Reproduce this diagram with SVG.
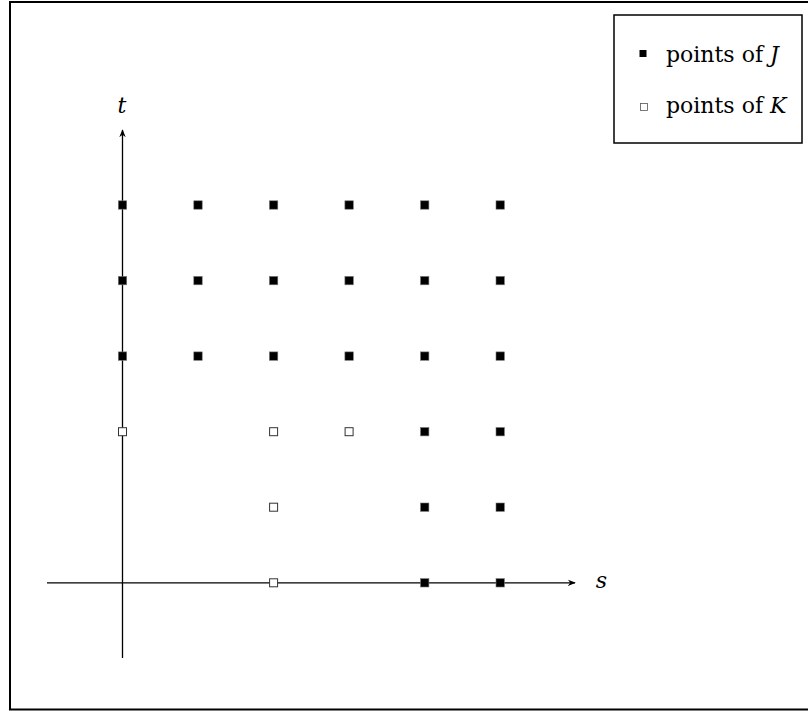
<svg xmlns="http://www.w3.org/2000/svg" width="808" height="711" viewBox="0 0 808 711">
<style>
.ax{stroke:#000;stroke-width:1.3;fill:none}
.f{fill:#000;stroke:#777;stroke-width:0.6}
.e{fill:#fff;stroke:#333;stroke-width:1}
.lbl{font-family:"DejaVu Serif","Liberation Serif",serif;font-size:22px;fill:#000}
.it{font-style:italic}
</style>
<defs>
<marker id="arr" viewBox="0 0 10 10" refX="9" refY="5" markerWidth="8" markerHeight="8" markerUnits="userSpaceOnUse" orient="auto">
<path d="M0,1 L10,5 L0,9 L3,5 Z" fill="#000"/>
</marker>
<rect id="fs" x="-4.2" y="-4.2" width="8.4" height="8.4" class="f"/>
<rect id="es" x="-4" y="-4" width="8" height="8" class="e"/>
</defs>
<rect x="0" y="0" width="808" height="711" fill="#fff"/>
<rect x="10" y="2" width="800" height="707.5" fill="none" stroke="#000" stroke-width="2"/>
<g id="connectors">
<line class="ax" x1="47" y1="582.8" x2="575" y2="582.8" marker-end="url(#arr)"/>
<line class="ax" x1="122.5" y1="658" x2="122.5" y2="130" marker-end="url(#arr)"/>
</g>
<g id="axis-labels">
<text class="lbl it" x="122" y="113" text-anchor="middle">t</text>
<text class="lbl it" x="601.5" y="588" text-anchor="middle">s</text>
</g>
<g id="points-J">
<use href="#fs" x="122.5" y="205"/><use href="#fs" x="198" y="205"/><use href="#fs" x="273.6" y="205"/><use href="#fs" x="349.1" y="205"/><use href="#fs" x="424.7" y="205"/><use href="#fs" x="500.2" y="205"/>
<use href="#fs" x="122.5" y="280.6"/><use href="#fs" x="198" y="280.6"/><use href="#fs" x="273.6" y="280.6"/><use href="#fs" x="349.1" y="280.6"/><use href="#fs" x="424.7" y="280.6"/><use href="#fs" x="500.2" y="280.6"/>
<use href="#fs" x="122.5" y="356.1"/><use href="#fs" x="198" y="356.1"/><use href="#fs" x="273.6" y="356.1"/><use href="#fs" x="349.1" y="356.1"/><use href="#fs" x="424.7" y="356.1"/><use href="#fs" x="500.2" y="356.1"/>
<use href="#fs" x="424.7" y="431.7"/><use href="#fs" x="500.2" y="431.7"/>
<use href="#fs" x="424.7" y="507.2"/><use href="#fs" x="500.2" y="507.2"/>
<use href="#fs" x="424.7" y="582.8"/><use href="#fs" x="500.2" y="582.8"/>
</g>
<g id="points-K">
<use href="#es" x="122.5" y="431.7"/><use href="#es" x="273.6" y="431.7"/><use href="#es" x="349.1" y="431.7"/>
<use href="#es" x="273.6" y="507.2"/>
<use href="#es" x="273.6" y="582.8"/>
</g>
<g id="legend">
<rect x="614" y="15" width="188" height="128" fill="#fff" stroke="#000" stroke-width="1.5"/>
<rect x="639.5" y="50" width="7" height="7" fill="#000"/>
<rect x="640.5" y="103.5" width="7" height="7" fill="#fff" stroke="#555" stroke-width="0.8"/>
<text class="lbl" x="666" y="62">points of <tspan class="it">J</tspan></text>
<text class="lbl" x="666" y="113">points of <tspan class="it">K</tspan></text>
</g>
</svg>
